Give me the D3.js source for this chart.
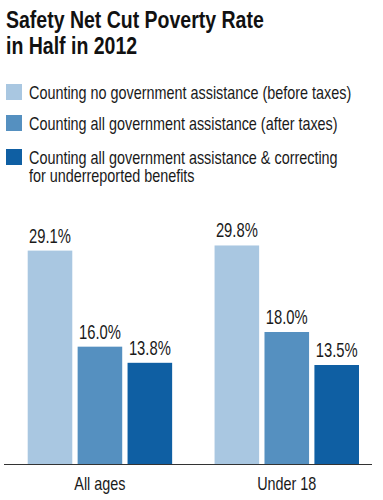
<!DOCTYPE html>
<meta charset="utf-8">
<head>
  <title>Safety Net Cut Poverty Rate in Half in 2012</title>
</head>

<style>
body {
  margin: 0;
  background: white;
}
text {
  font-family: "Liberation Sans", Arial, sans-serif;
  fill: #1a1a1a;
}
.title {
  font-weight: bold;
  font-size: 23.5px;
  fill: #111;
}
.legend text {
  font-size: 18px;
}
.value {
  font-size: 20px;
}
.cat {
  font-size: 18px;
}
</style>

<body>
  <svg width="383" height="500"></svg>

  <script src="https://cdnjs.cloudflare.com/ajax/libs/d3/7.8.5/d3.min.js"></script>
  <script>
var categories = ['All ages', 'Under 18'];
var seriesNames = [
  'Counting no government assistance (before taxes)',
  'Counting all government assistance (after taxes)',
  'Counting all government assistance & correcting|for underreported benefits'
];
var colors = ['#a9c7e1', '#5590c0', '#0f5fa3'];
var beforeTaxes = [29.1, 29.8];
var afterTaxes = [16.0, 18.0];
var corrected = [13.8, 13.5];
var titleLines = ['Safety Net Cut Poverty Rate', 'in Half in 2012'];

var series = [beforeTaxes, afterTaxes, corrected];

var svg = d3.select('svg');

// no condensed font installed, so squeeze horizontally around the anchor
function squeeze(k) {
  return function(x, y) { return 'translate(' + x + ',' + y + ') scale(' + k + ',1)'; };
}

// title
var tTitle = squeeze(0.83);
svg.append('g')
  .selectAll('text')
  .data(titleLines)
  .enter()
  .append('text')
  .attr('class', 'title')
  .attr('transform', function(d, i) { return tTitle(6, 28 + i * 26); })
  .text(function(d) { return d; });

// legend
var legend = svg.append('g')
  .attr('class', 'legend')
  .selectAll('g')
  .data(seriesNames)
  .enter()
  .append('g')
  .attr('transform', function(d, i) { return 'translate(6,' + [84, 115, 149][i] + ')'; });

legend.append('rect')
  .attr('width', 16)
  .attr('height', 16)
  .attr('fill', function(d, i) { return colors[i]; });

legend.append('text')
  .attr('transform', squeeze(0.8)(23, 15))
  .selectAll('tspan')
  .data(function(d) { return d.split('|'); })
  .enter()
  .append('tspan')
  .attr('x', 0)
  .attr('dy', function(d, i) { return i ? 18 : 0; })
  .text(function(d) { return d; });

// bars
var x0 = d3.scaleBand()
  .domain(categories)
  .range([27.7, 359])
  .paddingInner(0.227)
  .paddingOuter(0);

var x1 = d3.scaleBand()
  .domain(d3.range(series.length))
  .range([0, x0.bandwidth()])
  .paddingInner(0.107)
  .paddingOuter(0);

var y = d3.scaleLinear()
  .domain([0, 30])
  .range([464, 244]);

var groups = svg.append('g')
  .selectAll('g')
  .data(categories)
  .enter()
  .append('g')
  .attr('transform', function(d) { return 'translate(' + x0(d) + ',0)'; });

var bars = groups.selectAll('g')
  .data(function(d, ci) { return series.map(function(s, si) { return {si: si, v: s[ci]}; }); })
  .enter()
  .append('g');

bars.append('rect')
  .attr('x', function(d) { return x1(d.si); })
  .attr('y', function(d) { return y(d.v); })
  .attr('width', x1.bandwidth())
  .attr('height', function(d) { return y(0) - y(d.v); })
  .attr('fill', function(d) { return colors[d.si]; });

var tValue = squeeze(0.74);
bars.append('text')
  .attr('class', 'value')
  .attr('transform', function(d) { return tValue(x1(d.si) + x1.bandwidth() / 2, y(d.v) - 8); })
  .attr('text-anchor', 'middle')
  .text(function(d) { return d.v.toFixed(1) + '%'; });

// axis baseline + category labels
svg.append('line')
  .attr('x1', 4)
  .attr('x2', 372)
  .attr('y1', y(0) + 0.5)
  .attr('y2', y(0) + 0.5)
  .attr('stroke', '#333')
  .attr('stroke-width', 1);

var tCat = squeeze(0.8);
svg.append('g')
  .selectAll('text')
  .data(categories)
  .enter()
  .append('text')
  .attr('class', 'cat')
  .attr('transform', function(d) { return tCat(x0(d) + x0.bandwidth() / 2, 490); })
  .attr('text-anchor', 'middle')
  .text(function(d) { return d; });
  </script>
</body>
</html>
